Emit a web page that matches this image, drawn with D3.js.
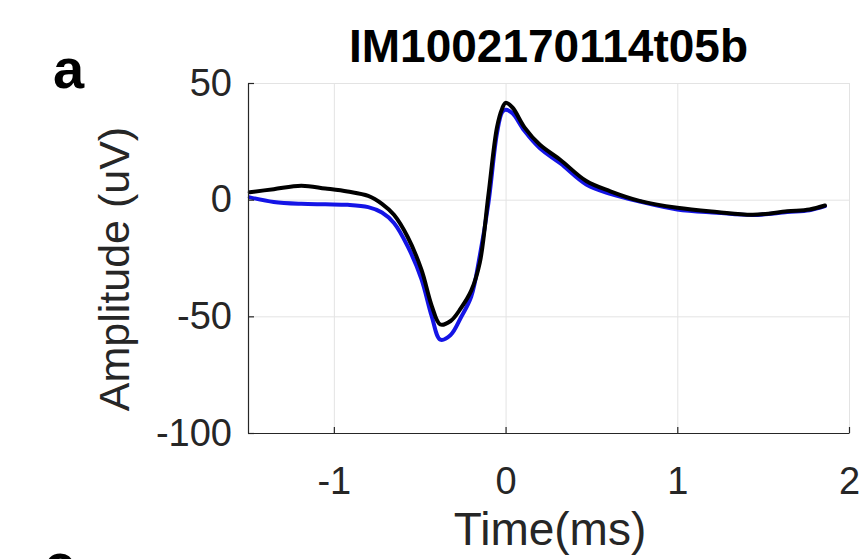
<!DOCTYPE html>
<html>
<head>
<meta charset="utf-8">
<script src="https://cdn.jsdelivr.net/npm/d3@7"></script>
<style>
  html, body { margin: 0; padding: 0; background: #fff; }
  svg { display: block; font-family: "Liberation Sans", Arial, Helvetica, sans-serif; }
</style>
</head>
<body>
<svg id="chart" width="867" height="559"></svg>
<script>
// ---- data ----
const chartTitle = "IM1002170114t05b";
const xTicks = [-1, 0, 1, 2];
const yTicks = [-100, -50, 0, 50];
const timeMs = [-1.49,-1.35,-1.19,-1.05,-0.92,-0.8,-0.72,-0.65,-0.57,-0.49,-0.43,-0.38,-0.32,-0.26,-0.2,-0.15,-0.1,-0.05,-0.02,0,0.04,0.11,0.2,0.32,0.47,0.61,0.78,1.0,1.23,1.44,1.64,1.77,1.86];
const blackAmp = [3.2,4.5,6,4.8,3.5,1.6,-1.8,-6.5,-16,-30,-45.5,-53.5,-52,-46.5,-39,-27,2,31,39,41.5,39.5,31,23.5,17,8,3.6,-0.5,-3.5,-5.3,-6.5,-5,-4.2,-2.5];
const blueAmp  = [1,-1,-1.8,-2,-2.2,-3.2,-5.5,-10,-20,-34,-50,-60,-58,-50.5,-41.5,-24,-1.5,28.5,37.5,38.5,37,29.5,22,15.5,6.5,2.5,-0.8,-4.2,-5.6,-6.6,-5.3,-4.5,-2.8];

// ---- layout ----
const svg = d3.select("#chart");
const pL = 248, pR = 849, pT = 83, pB = 433;
const x = d3.scaleLinear().domain([-1.5, 2]).range([pL, pR]);
const y = d3.scaleLinear().domain([-100, 50]).range([pB, pT]);
const ink = "#262626";

// grid
svg.append("g")
  .attr("transform", `translate(0,${pB})`)
  .call(d3.axisBottom(x).tickValues(xTicks).tickSize(-(pB - pT)).tickFormat(""))
  .call(g => g.select(".domain").remove())
  .call(g => g.selectAll("line").attr("stroke", "#e3e3e3").attr("stroke-width", 1));
svg.append("g")
  .attr("transform", `translate(${pL},0)`)
  .call(d3.axisLeft(y).tickValues(yTicks).tickSize(-(pR - pL)).tickFormat(""))
  .call(g => g.select(".domain").remove())
  .call(g => g.selectAll("line").attr("stroke", "#e3e3e3").attr("stroke-width", 1));

// lines
const line = (vals) => d3.line()
  .x((d, i) => x(timeMs[i]))
  .y(d => y(d))
  .curve(d3.curveCatmullRom.alpha(0.5))(vals);

svg.append("path").attr("d", line(blueAmp))
  .attr("fill", "none").attr("stroke", "#1414e6").attr("stroke-width", 4)
  .attr("stroke-linejoin", "round").attr("stroke-linecap", "round");
svg.append("path").attr("d", line(blackAmp))
  .attr("fill", "none").attr("stroke", "#000").attr("stroke-width", 4)
  .attr("stroke-linejoin", "round").attr("stroke-linecap", "round");

// axes
const fmt = d => (d < 0 ? "-" + Math.abs(d) : String(d));
const xAxis = svg.append("g")
  .attr("transform", `translate(0,${pB})`)
  .call(d3.axisBottom(x).tickValues(xTicks).tickSizeInner(-6).tickSizeOuter(0).tickPadding(34).tickFormat(fmt));
const yAxis = svg.append("g")
  .attr("transform", `translate(${pL},0)`)
  .call(d3.axisLeft(y).tickValues(yTicks).tickSizeInner(-6).tickSizeOuter(0).tickPadding(16).tickFormat(fmt));
[xAxis, yAxis].forEach(g => {
  g.select(".domain").attr("stroke", ink).attr("stroke-width", 1.2);
  g.selectAll(".tick line").attr("stroke", ink).attr("stroke-width", 1.2);
  g.selectAll("text").attr("fill", ink).attr("font-size", 38)
    .attr("font-family", "'Liberation Sans', Arial, Helvetica, sans-serif");
});

// title
svg.append("text").attr("x", (pL + pR) / 2).attr("y", 62)
  .attr("text-anchor", "middle").attr("font-size", 46).attr("font-weight", "bold")
  .attr("fill", "#000").text(chartTitle);

// axis labels
svg.append("text").attr("x", 550).attr("y", 545)
  .attr("text-anchor", "middle").attr("font-size", 46).attr("fill", ink).text("Time(ms)");
svg.append("text").attr("transform", "translate(129,269) rotate(-90)")
  .attr("text-anchor", "middle").attr("font-size", 43).attr("fill", ink).text("Amplitude (uV)");

// panel letters ("c" belongs to the next panel and is cut off at the bottom edge, as in the reference)
svg.append("text").attr("x", 53).attr("y", 88)
  .attr("font-size", 56).attr("font-weight", "bold").attr("fill", "#000").text("a");
svg.append("text").attr("x", 44).attr("y", 583)
  .attr("font-size", 56).attr("font-weight", "bold").attr("fill", "#000").text("c");
</script>
</body>
</html>
